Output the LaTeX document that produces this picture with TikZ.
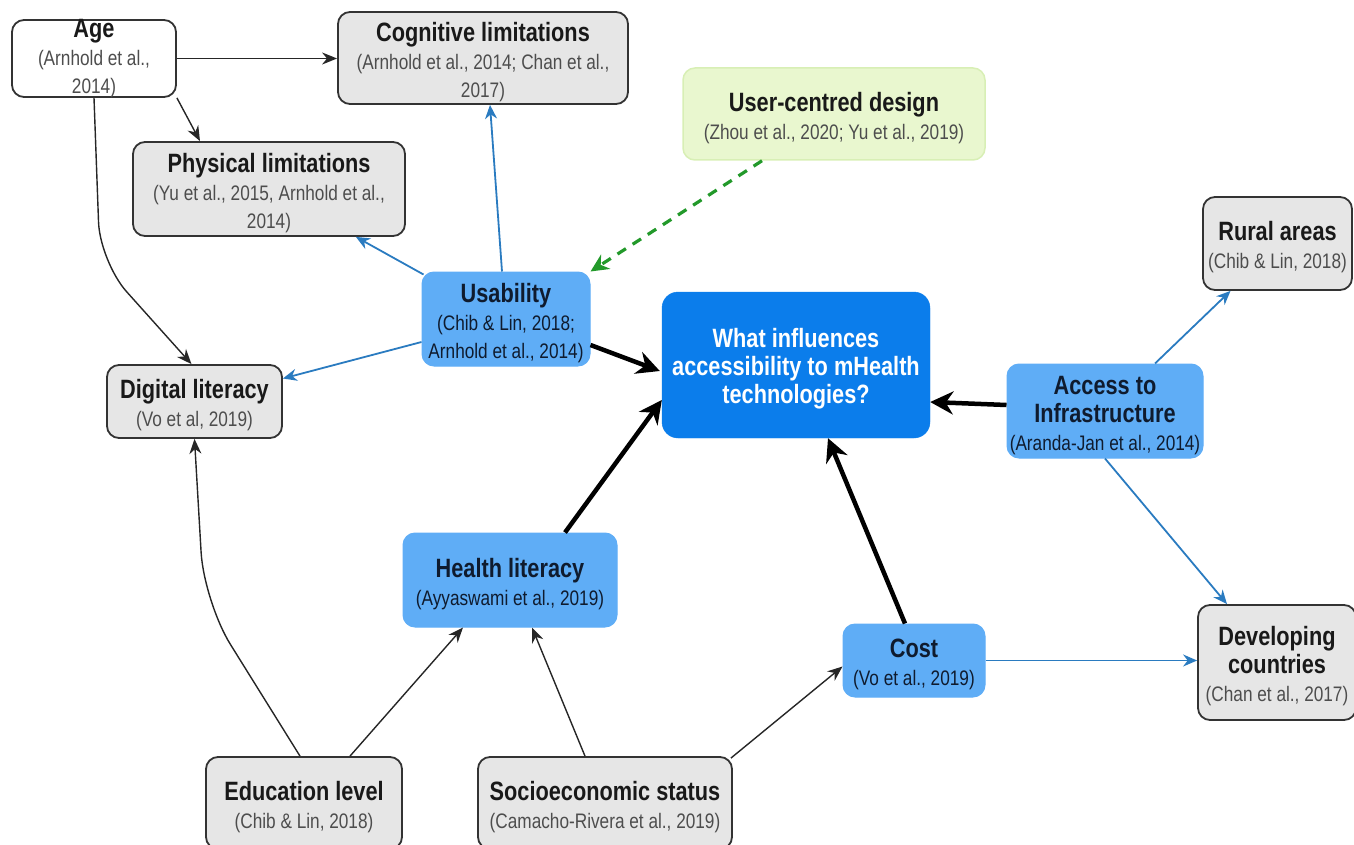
\documentclass[tikz,border=0pt]{standalone}
\usepackage{fontspec}
\setmainfont{Liberation Sans}[FakeStretch=0.82]
\usetikzlibrary{arrows.meta,calc}

\definecolor{greyfill}{HTML}{E6E6E6}
\definecolor{boxline}{HTML}{333333}
\definecolor{lightblue}{HTML}{5FADF6}
\definecolor{mainblue}{HTML}{0B7DEB}
\definecolor{linkblue}{HTML}{2A7BC0}
\definecolor{dashgreen}{HTML}{22992A}
\definecolor{greenfill}{HTML}{E9F7CF}
\definecolor{greenline}{HTML}{D8EFB5}
\definecolor{navy}{HTML}{0F1B2E}
\definecolor{citegrey}{HTML}{4D4D4D}

% first title line carries a tall strut so the text block sits a little lower
\newcommand{\boxhead}[1]{{\rule{0pt}{27pt}\fontsize{26.5}{28}\selectfont\bfseries #1}}
\newcommand{\boxtitle}[1]{{\fontsize{26.5}{28}\selectfont\bfseries #1}}
\newcommand{\boxcite}[1]{{\fontsize{21}{28}\selectfont #1}}

\tikzset{
  box/.style={rounded corners=12pt, align=center, inner sep=0pt,
    font=\fontsize{21}{28}\selectfont},
  greybox/.style={box, fill=greyfill, draw=boxline, line width=1.8pt, text=black!90},
  whitebox/.style={greybox, fill=white},
  bluebox/.style={box, fill=lightblue, draw=lightblue, line width=1pt, text=navy},
  mainbox/.style={box, rounded corners=16pt, fill=mainblue, draw=mainblue, text=white},
  greenbox/.style={box, fill=greenfill, draw=greenline, line width=1.5pt, text=black!90},
  thinarrow/.style={-{Stealth[length=15pt,width=12pt]}, line width=1.4pt, black!85},
  thickarrow/.style={-{Stealth[length=23pt,width=23pt]}, line width=4.5pt, black},
  bluearrow/.style={-{Stealth[length=14pt,width=12pt]}, line width=1.8pt, linkblue},
  greenarrow/.style={-{Stealth[length=18pt,width=17pt]}, line width=3.2pt, dashgreen,
    dash pattern=on 10pt off 8pt},
}

\begin{document}
\begin{tikzpicture}[x=1pt, y=-1pt]
\useasboundingbox (0,0) rectangle (1354,845);

% boxes
\node[whitebox, inner ysep=-4pt, minimum width=164pt, minimum height=77pt] (age) at (94,58.5)
  {\boxtitle{Age}\\ \boxcite{\color{citegrey}(Arnhold et al.,}\\ \boxcite{\color{citegrey}2014)}};
\node[greybox, minimum width=290pt, minimum height=92pt] (cog) at (483,58)
  {\boxhead{Cognitive limitations}\\ \boxcite{\color{citegrey}(Arnhold et al., 2014; Chan et al.,}\\ \boxcite{\color{citegrey}2017)}};
\node[greybox, minimum width=272pt, minimum height=94pt] (phys) at (269,189)
  {\boxhead{Physical limitations}\\ \boxcite{\color{citegrey}(Yu et al., 2015, Arnhold et al.,}\\ \boxcite{\color{citegrey}2014)}};
\node[greenbox, minimum width=302pt, minimum height=92pt] (ucd) at (834,114)
  {\boxhead{User-centred design}\\ \boxcite{\color{citegrey}(Zhou et al., 2020; Yu et al., 2019)}};
\node[greybox, minimum width=149pt, minimum height=93pt] (rural) at (1277.5,243.5)
  {\boxhead{Rural areas}\\ \boxcite{\color{citegrey}(Chib \& Lin, 2018)}};
\node[bluebox, minimum width=168pt, minimum height=94pt] (usab) at (506,319)
  {\boxhead{Usability}\\ \boxcite{(Chib \& Lin, 2018;}\\ \boxcite{Arnhold et al., 2014)}};
\node[mainbox, minimum width=268pt, minimum height=146pt] (q) at (796,365)
  {\boxhead{What influences}\\ \boxtitle{accessibility to mHealth}\\ \boxtitle{technologies?}};
\node[greybox, minimum width=175pt, minimum height=73pt] (dig) at (194.5,401.5)
  {\boxhead{Digital literacy}\\ \boxcite{\color{citegrey}(Vo et al, 2019)}};
\node[bluebox, minimum width=196pt, minimum height=94pt] (acc) at (1105,411)
  {\boxhead{Access to}\\ \boxtitle{Infrastructure}\\ \boxcite{(Aranda-Jan et al., 2014)}};
\node[bluebox, minimum width=214pt, minimum height=94pt] (health) at (510,580)
  {\boxhead{Health literacy}\\ \boxcite{(Ayyaswami et al., 2019)}};
\node[bluebox, minimum width=142pt, minimum height=73pt] (cost) at (914,660.5)
  {\boxhead{Cost}\\ \boxcite{(Vo et al., 2019)}};
\node[greybox, minimum width=158pt, minimum height=115pt] (dev) at (1277,662.5)
  {\boxhead{Developing}\\ \boxtitle{countries}\\ \boxcite{\color{citegrey}(Chan et al., 2017)}};
\node[greybox, minimum width=196pt, minimum height=92pt] (edu) at (304,803)
  {\boxhead{Education level}\\ \boxcite{\color{citegrey}(Chib \& Lin, 2018)}};
\node[greybox, minimum width=254pt, minimum height=92pt] (socio) at (605,803)
  {\boxhead{Socioeconomic status}\\ \boxcite{\color{citegrey}(Camacho-Rivera et al., 2019)}};

% bend points of the two curved links into digital literacy
\coordinate (agebend) at (100,262);
\coordinate (edubend) at (204,602);

% thin black links
\draw[thinarrow] (age.east) -- (age.east -| cog.west);
\draw[thinarrow] (age.south east) -- ($(phys.north)+(-69,0)$);
\draw[thinarrow, rounded corners=40pt] (age.south) -- (agebend) -- ($(dig.north)+(-3,0)$);
\draw[thinarrow, rounded corners=50pt] ($(edu.north)+(-4,0)$) -- (edubend) -- (dig.south);
\draw[thinarrow] ($(edu.north)+(46,0)$) -- ($(health.south)+(-47,0)$);
\draw[thinarrow] ($(socio.north)+(-20,0)$) -- ($(health.south)+(22,0)$);
\draw[thinarrow] ($(socio.north east)+(-2,2)$) -- ($(cost.west)+(0,6)$);

% thick links into the central question
\draw[thickarrow] ($(health.north)+(55,0)$) -- ($(q.west)+(0,35)$);
\draw[thickarrow] ($(usab.east)+(0,26)$) -- ($(q.west)+(-2,6)$);
\draw[thickarrow] ($(cost.north)+(-9,0)$) -- ($(q.south)+(32,0)$);
\draw[thickarrow] ($(acc.west)+(0,-6)$) -- ($(q.east)+(0,37)$);

% blue links
\draw[bluearrow] ($(usab.north)+(-4,0)$) -- ($(cog.south)+(7,0)$);
\draw[bluearrow] ($(usab.north west)+(2,3)$) -- ($(phys.south east)+(-50,0)$);
\draw[bluearrow] ($(usab.west)+(0,23)$) -- ($(dig.east)+(0,-23)$);
\draw[bluearrow] ($(acc.north)+(50,0)$) -- ($(rural.south)+(-47,0)$);
\draw[bluearrow] (acc.south) -- ($(dev.north)+(-50,0)$);
\draw[bluearrow] (cost.east) -- (cost.east -| dev.west);

% dashed green link
\draw[greenarrow] ($(ucd.south)+(-72,0)$) -- (usab.north east);
\end{tikzpicture}
\end{document}
